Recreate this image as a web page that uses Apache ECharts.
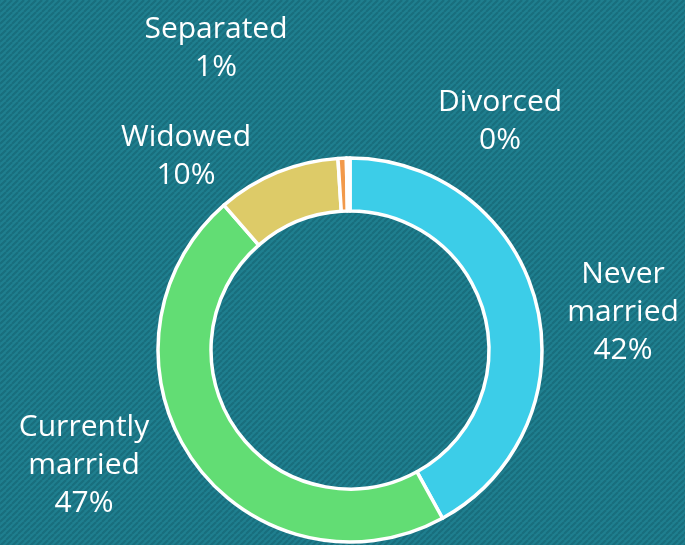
<!DOCTYPE html>
<html>
<head>
<meta charset="utf-8">
<script src="https://cdn.jsdelivr.net/npm/echarts@6/dist/echarts.min.js"></script>
<style>
  html, body { margin: 0; padding: 0; }
  #chart { width: 685px; height: 545px; }
</style>
</head>
<body>
<div id="chart"></div>
<script>
// marital status shares (percent)
const categories = ['Never\nmarried', 'Currently\nmarried', 'Widowed', 'Separated', 'Divorced']
const values = [42.0, 46.6, 10.4, 0.7, 0.3]
const colors = ['#3ccde8', '#62dd74', '#ddcb68', '#f2994a', '#eeeeee']
// label centres (the source places them by hand)
const labelPos = [[623, 312], [84, 465], [186, 156], [216, 48], [500, 121]]

// striped teal background
function stripes () {
  const c = document.createElement('canvas')
  c.width = 6
  c.height = 6
  const ctx = c.getContext('2d')
  ctx.fillStyle = '#1f7f8f'
  ctx.fillRect(0, 0, 6, 6)
  ctx.strokeStyle = '#196e7d'
  ctx.lineWidth = 2
  for (let k = -6; k <= 12; k += 6) {
    ctx.beginPath()
    ctx.moveTo(k, 6)
    ctx.lineTo(k + 6, 0)
    ctx.stroke()
  }
  return c
}

const chart = echarts.init(document.getElementById('chart'))
chart.setOption({
  backgroundColor: { image: stripes(), repeat: 'repeat' },
  animation: false,
  series: [{
    type: 'pie',
    center: [350, 350],
    radius: [139, 192],
    startAngle: 90,
    clockwise: true,
    avoidLabelOverlap: false,
    data: categories.map((name, i) => ({
      name: name,
      value: values[i],
      itemStyle: { color: colors[i] }
    })),
    itemStyle: { borderColor: '#ffffff', borderWidth: 3.5 },
    label: {
      show: true,
      position: 'outside',
      color: '#ffffff',
      fontFamily: 'Open Sans',
      fontSize: 30,
      lineHeight: 38,
      align: 'center',
      formatter: p => p.name + '\n' + Math.round(p.value) + '%'
    },
    labelLine: { show: false },
    labelLayout: p => ({
      x: labelPos[p.dataIndex][0],
      y: labelPos[p.dataIndex][1],
      align: 'center',
      verticalAlign: 'middle'
    })
  }]
})
</script>
</body>
</html>
